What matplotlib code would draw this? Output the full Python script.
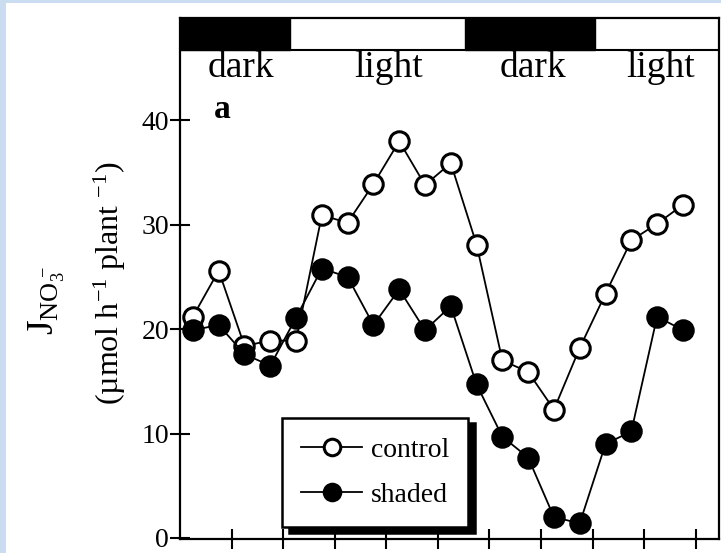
import matplotlib
matplotlib.use("Agg")
import matplotlib.pyplot as plt
from matplotlib.patches import Rectangle

plt.rcParams['font.family'] = ['Liberation Serif', 'DejaVu Serif']
plt.rcParams['mathtext.fontset'] = 'custom'
plt.rcParams['mathtext.rm'] = 'Liberation Serif'
plt.rcParams['mathtext.it'] = 'Liberation Serif:italic'
plt.rcParams['mathtext.bf'] = 'Liberation Serif:bold'

# ---- data ----
time_h = [0.5, 1.5, 2.5, 3.5, 4.5, 5.5, 6.5, 7.5, 8.5, 9.5,
          10.5, 11.5, 12.5, 13.5, 14.5, 15.5, 16.5, 17.5, 18.5, 19.5]
control = [21.2, 25.6, 18.4, 18.9, 18.9, 30.9, 30.2, 33.9, 38.0, 33.8,
           35.9, 28.1, 17.0, 15.9, 12.3, 18.2, 23.4, 28.5, 30.1, 31.9]
shaded = [19.9, 20.4, 17.6, 16.5, 21.1, 25.8, 25.0, 20.4, 23.8, 19.9,
          22.2, 14.7, 9.7, 7.7, 2.0, 1.4, 9.0, 10.2, 21.2, 19.9]
series_labels = ["control", "shaded"]

dark_start = [0.0, 11.05]
dark_end = [4.25, 16.1]
period_labels = ["dark", "light", "dark", "light"]
period_label_x = [2.36, 8.1, 13.7, 18.64]

y_ticks = [0, 10, 20, 30, 40]
x_ticks = [2, 4, 6, 8, 10, 12, 14, 16, 18, 20]

# ---- figure ----
W, H = 721, 553
fig = plt.figure(figsize=(W / 100, H / 100), dpi=100)
fig.patch.set_facecolor('white')

# light blue frame strips
blue = '#c9dcf0'
fig.patches.append(Rectangle((0, 0), 6 / W, 1, transform=fig.transFigure,
                             facecolor=blue, edgecolor='none', zorder=0))
fig.patches.append(Rectangle((0, 1 - 3 / H), 1, 3 / H, transform=fig.transFigure,
                             facecolor=blue, edgecolor='none', zorder=0))

left, right = 180 / W, 719 / W
bottom, top = 1 - 539 / H, 1 - 18 / H
ax = fig.add_axes([left, bottom, right - left, top - bottom])

ax.set_xlim(0, 20.9)
ax.set_ylim(-0.1, 49.8)

bar_lo = 46.7
for s, e in zip(dark_start, dark_end):
    ax.add_patch(Rectangle((s, bar_lo), e - s, 49.8 - bar_lo,
                           facecolor='black', edgecolor='black', lw=1.0, zorder=3))
ax.axhline(bar_lo, color='black', lw=1.5, zorder=3)

for lbl, xp in zip(period_labels, period_label_x):
    ax.text(xp, 45.0, lbl, ha='center', va='center', fontsize=27)

ax.text(1.63, 41.0, 'a', ha='center', va='center', fontsize=24, fontweight='bold')

ax.plot(time_h, control, '-', color='black', lw=1.3, marker='o', ms=14,
        mfc='white', mec='black', mew=2.2, label=series_labels[0], zorder=4)
ax.plot(time_h, shaded, '-', color='black', lw=1.3, marker='o', ms=14,
        mfc='black', mec='black', mew=2.2, label=series_labels[1], zorder=5)

for sp in ax.spines.values():
    sp.set_linewidth(1.6)

ax.set_yticks(y_ticks)
ax.set_xticks(x_ticks)
ax.tick_params(axis='both', direction='inout', length=14, width=1.5)
ax.tick_params(axis='y', labelsize=20, pad=1)
ax.tick_params(axis='x', labelbottom=False)

# y labels
fig.text(47 / W, 1 - 300 / H, r"$\mathrm{J}_{\mathrm{NO}_3^{\,-}}$", rotation=90,
         ha='center', va='center', fontsize=27)
fig.text(110 / W, 1 - 283 / H, "(\u00b5mol h$^{-1}$ plant $^{-1}$)", rotation=90,
         ha='center', va='center', fontsize=23)

shadow = {'ox': 5, 'oy': -4, 'color': 'black', 'alpha': 1}
leg = ax.legend(loc='lower left', bbox_to_anchor=(0.189, 0.023), borderaxespad=0,
                fontsize=20, frameon=True, fancybox=False, shadow=shadow,
                handlelength=2.2, handletextpad=0.3, labelspacing=0.7,
                borderpad=0.7, markerscale=0.85)
leg.get_frame().set_edgecolor('black')
leg.get_frame().set_linewidth(1.8)
leg.set_zorder(10)

fig.savefig('out.png', dpi=100)
